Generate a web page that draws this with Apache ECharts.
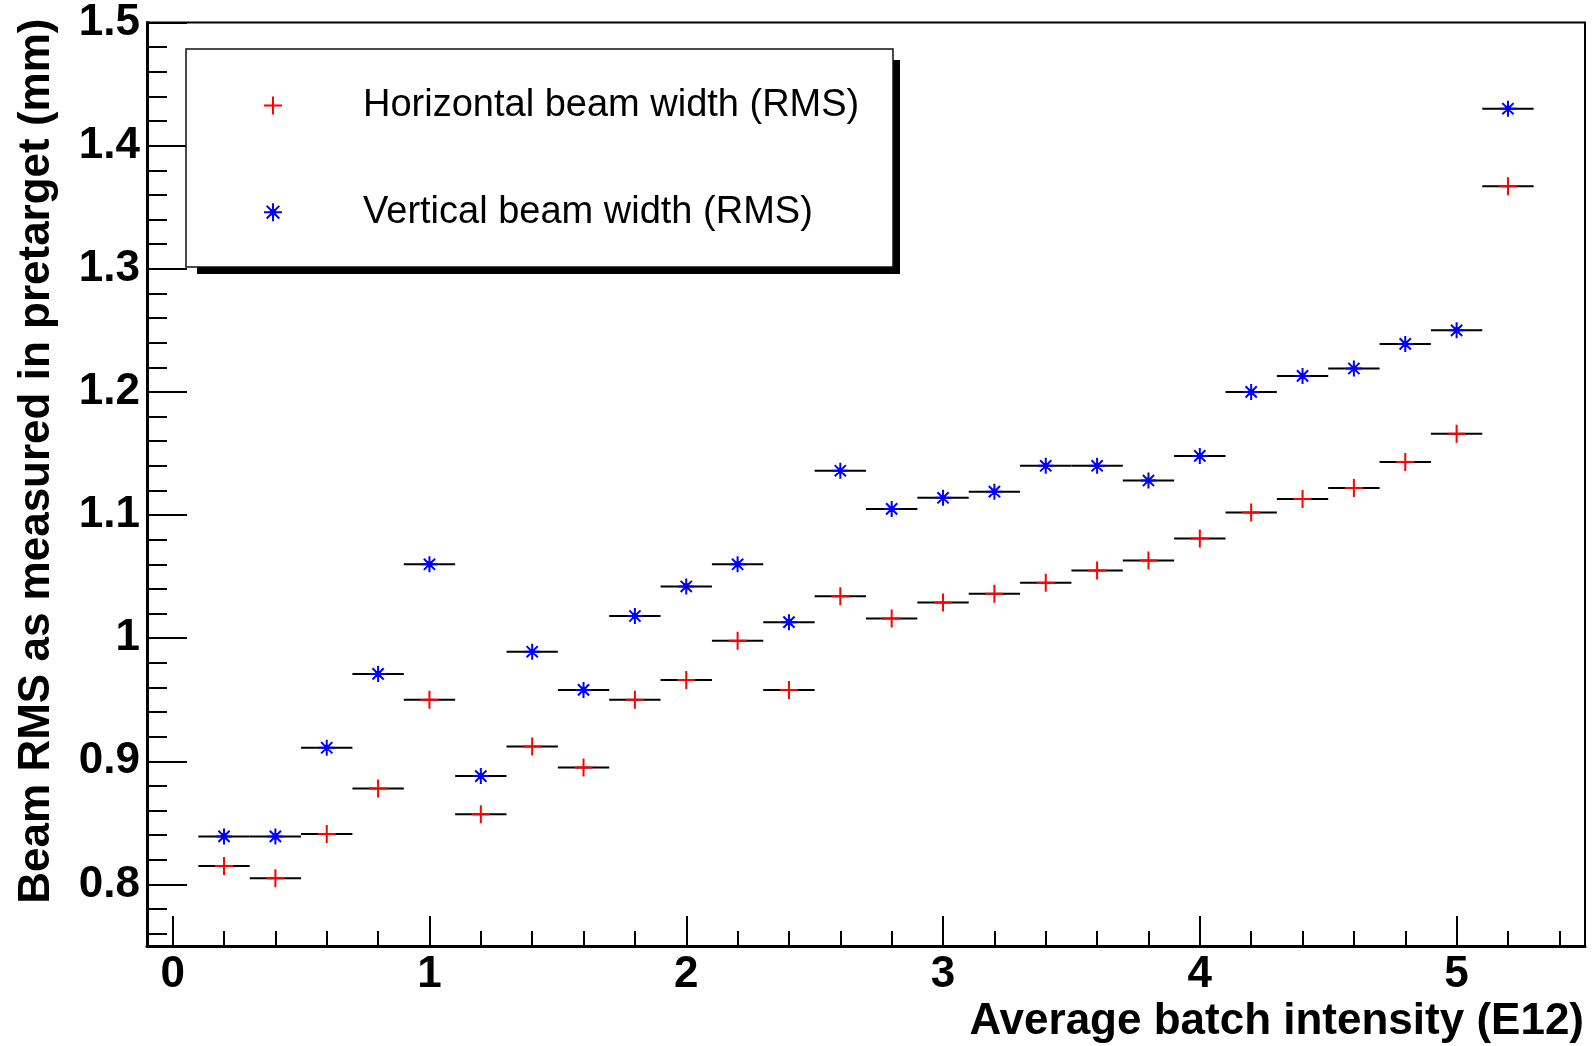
<!DOCTYPE html>
<html>
<head>
<meta charset="utf-8">
<script src="https://cdn.jsdelivr.net/npm/echarts@6/dist/echarts.min.js"></script>
<style>
  html, body { margin: 0; padding: 0; background: #fff; }
  #chart { width: 1592px; height: 1046px; }
</style>
</head>
<body>
<div id="chart"></div>
<script>
// Bin centres of the average batch intensity (E12)
const intensity = [0.2, 0.4, 0.6, 0.8, 1.0, 1.2, 1.4, 1.6, 1.8, 2.0, 2.2, 2.4, 2.6,
                   2.8, 3.0, 3.2, 3.4, 3.6, 3.8, 4.0, 4.2, 4.4, 4.6, 4.8, 5.0, 5.2];
// Half width of each intensity bin (horizontal error bar)
const binHalfWidth = 0.1;
// Horizontal beam RMS width (mm)
const horizontalRms = [0.815, 0.805, 0.841, 0.878, 0.950, 0.857, 0.912, 0.895, 0.950, 0.966, 0.998, 0.958, 1.034,
                       1.016, 1.029, 1.036, 1.045, 1.055, 1.063, 1.081, 1.102, 1.113, 1.122, 1.143, 1.166, 1.367];
// Vertical beam RMS width (mm)
const verticalRms = [0.839, 0.839, 0.911, 0.971, 1.060, 0.888, 0.989, 0.958, 1.018, 1.042, 1.060, 1.013, 1.136,
                     1.105, 1.114, 1.119, 1.140, 1.140, 1.128, 1.148, 1.200, 1.213, 1.219, 1.239, 1.250, 1.430];
// Labelled ticks
const xTickLabels = [0, 1, 2, 3, 4, 5];
const yTickLabels = [0.8, 0.9, 1.0, 1.1, 1.2, 1.3, 1.4, 1.5];

const seriesNames = ['Horizontal beam width (RMS)', 'Vertical beam width (RMS)'];
const xTitle = 'Average batch intensity (E12)';
const yTitle = 'Beam RMS as measured in pretarget (mm)';

const FONT = "'Liberation Sans', Arial, Helvetica, sans-serif";
const PLUS = 'path://M0,-10L0,10M-10,0L10,0';
const STAR = 'path://M0,-10L0,10M-10,0L10,0M-7,-7L7,7M-7,7L7,-7M2.6,0A2.6,2.6,0,1,1,-2.6,0A2.6,2.6,0,1,1,2.6,0Z';

// Unlabelled (minor) tick positions between the labelled ones
function minorTicks(lo, hi, step, majors) {
  const out = [];
  for (let i = Math.round(lo / step); i * step <= hi + 1e-9; i++) {
    const v = +(i * step).toFixed(4);
    if (!majors.some(m => Math.abs(m - v) < 1e-9)) out.push(v);
  }
  return out;
}
const xMinor = minorTicks(0.2, 5.4, 0.2, xTickLabels);
const yMinor = minorTicks(0.76, 1.48, 0.02, yTickLabels);

const pairs = ys => intensity.map((x, i) => [x, ys[i]]);

function errorBar(params, api) {
  const x = api.value(0), y = api.value(1);
  const a = api.coord([x - binHalfWidth, y]);
  const b = api.coord([x + binHalfWidth, y]);
  return {
    type: 'line',
    shape: { x1: a[0], y1: a[1], x2: b[0], y2: b[1] },
    style: { stroke: '#000', lineWidth: 2 }
  };
}

const labelStyle = { fontFamily: FONT, fontSize: 44, fontWeight: 'bold', color: '#000' };
const X_MIN = -0.1, X_MAX = 5.5, Y_MIN = 0.75, Y_MAX = 1.5;

// Legend frame (box with a drop shadow on the lower-right)
const BOX = { x: 186, y: 49, width: 707, height: 218 };

const chart = echarts.init(document.getElementById('chart'));
chart.setOption({
  animation: false,
  backgroundColor: '#fff',
  grid: {
    left: 147, right: 7, top: 22.5, bottom: 100,
    show: true, borderColor: '#000', borderWidth: 2, backgroundColor: 'transparent'
  },
  graphic: [
    { type: 'rect', z: 3, silent: true,
      shape: { x: BOX.x + 11, y: BOX.y + 11, width: BOX.width - 4, height: BOX.height - 4 },
      style: { fill: '#000' } },
    { type: 'rect', z: 3, silent: true,
      shape: BOX,
      style: { fill: '#fff', stroke: '#111', lineWidth: 1.5 } }
  ],
  xAxis: [
    {
      type: 'value', min: X_MIN, max: X_MAX, position: 'bottom',
      axisLine: { onZero: false, lineStyle: { color: '#000', width: 3 } },
      axisTick: { inside: true, length: 30, lineStyle: { color: '#000', width: 2 }, customValues: xTickLabels },
      axisLabel: Object.assign({ customValues: xTickLabels, margin: 7 }, labelStyle),
      splitLine: { show: false },
      name: xTitle, nameLocation: 'end', nameGap: -1,
      nameTextStyle: Object.assign({ align: 'right', verticalAlign: 'top', padding: [54, 0, 0, 0] }, labelStyle)
    },
    {
      type: 'value', min: X_MIN, max: X_MAX, position: 'bottom',
      axisLine: { show: false, onZero: false },
      axisTick: { inside: true, length: 15, lineStyle: { color: '#000', width: 2 }, customValues: xMinor },
      axisLabel: { show: false },
      splitLine: { show: false }
    }
  ],
  yAxis: [
    {
      type: 'value', min: Y_MIN, max: Y_MAX, position: 'left',
      axisLine: { onZero: false, lineStyle: { color: '#000', width: 3 } },
      axisTick: { inside: true, length: 40, lineStyle: { color: '#000', width: 2 }, customValues: yTickLabels },
      axisLabel: Object.assign({ customValues: yTickLabels, margin: 7 }, labelStyle),
      splitLine: { show: false },
      name: yTitle, nameLocation: 'end', nameGap: 4, nameRotate: 90,
      nameTextStyle: Object.assign({ align: 'right', verticalAlign: 'bottom', padding: [0, 0, 88, 0] }, labelStyle)
    },
    {
      type: 'value', min: Y_MIN, max: Y_MAX, position: 'left',
      axisLine: { show: false, onZero: false },
      axisTick: { inside: true, length: 20, lineStyle: { color: '#000', width: 2 }, customValues: yMinor },
      axisLabel: { show: false },
      splitLine: { show: false }
    }
  ],
  legend: {
    orient: 'vertical', left: 263, top: 86.6, z: 5,
    padding: 0, itemGap: 68.6, itemWidth: 18, itemHeight: 18,
    backgroundColor: 'transparent', borderWidth: 0,
    selectedMode: false,
    textStyle: { fontFamily: FONT, fontSize: 38, lineHeight: 38, color: '#000', padding: [0, 0, 0, 76] },
    data: [
      { name: seriesNames[0], icon: PLUS, itemStyle: { color: '#ff0000', borderColor: '#ff0000', borderWidth: 2 } },
      { name: seriesNames[1], icon: STAR, itemStyle: { color: '#0000ff', borderColor: '#0000ff', borderWidth: 2 } }
    ]
  },
  series: [
    { type: 'custom', name: 'h-bins', xAxisIndex: 0, yAxisIndex: 0, z: 2, silent: true,
      renderItem: errorBar, data: pairs(horizontalRms) },
    { type: 'custom', name: 'v-bins', xAxisIndex: 0, yAxisIndex: 0, z: 2, silent: true,
      renderItem: errorBar, data: pairs(verticalRms) },
    { type: 'scatter', name: seriesNames[0], xAxisIndex: 0, yAxisIndex: 0, z: 3,
      symbol: PLUS, symbolSize: 18,
      itemStyle: { color: '#ff0000', borderColor: '#ff0000', borderWidth: 2, opacity: 1 },
      data: pairs(horizontalRms) },
    { type: 'scatter', name: seriesNames[1], xAxisIndex: 0, yAxisIndex: 0, z: 3,
      symbol: STAR, symbolSize: 16,
      itemStyle: { color: '#0000ff', borderColor: '#0000ff', borderWidth: 2, opacity: 1 },
      data: pairs(verticalRms) }
  ]
});
</script>
</body>
</html>
